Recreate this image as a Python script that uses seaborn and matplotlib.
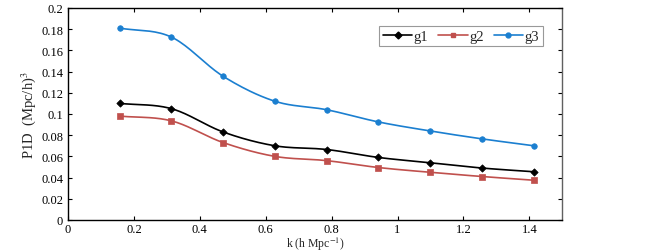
import numpy as np
import pandas as pd
import seaborn as sns
import matplotlib
matplotlib.use("Agg")
import matplotlib.pyplot as plt

k = [0.157, 0.314, 0.471, 0.628, 0.785, 0.942, 1.099, 1.257, 1.414]
g1 = [0.110, 0.105, 0.083, 0.070, 0.0665, 0.059, 0.054, 0.049, 0.0455]
g2 = [0.098, 0.0935, 0.073, 0.060, 0.056, 0.0495, 0.045, 0.041, 0.0375]
g3 = [0.181, 0.1725, 0.1355, 0.112, 0.104, 0.0925, 0.084, 0.0765, 0.070]
series_names = ["g1", "g2", "g3"]
colors = ["#000000", "#C0504D", "#1B7FD0"]
markers = ["D", "s", "o"]

sns.set_theme(style="ticks")
plt.rcParams["font.family"] = ["Liberation Serif", "DejaVu Serif"]
plt.rcParams["mathtext.fontset"] = "stix"

fig = plt.figure(figsize=(6.67, 2.53), dpi=100)
ax = fig.add_axes([0.102, 0.1265, 0.741, 0.838])


def smooth(x, y, n=20):
    # Catmull-Rom style smoothing (like spreadsheet "smoothed line") through data points
    x = np.asarray(x); y = np.asarray(y)
    P = np.column_stack([x, y])
    P = np.vstack([P[0] - (P[1] - P[0]), P, P[-1] + (P[-1] - P[-2])])
    out = []
    t = np.linspace(0, 1, n)[:, None]
    for i in range(1, len(P) - 2):
        p0, p1, p2, p3 = P[i - 1], P[i], P[i + 1], P[i + 2]
        c1 = p1 + (p2 - p0) / 6
        c2 = p2 - (p3 - p1) / 6
        seg = ((1 - t) ** 3) * p1 + 3 * ((1 - t) ** 2) * t * c1 + 3 * (1 - t) * t ** 2 * c2 + t ** 3 * p2
        out.append(seg if i == 1 else seg[1:])
    out = np.vstack(out)
    return out[:, 0], out[:, 1]


for name, vals, c, m in zip(series_names, [g1, g2, g3], colors, markers):
    sx, sy = smooth(k, vals)
    sns.lineplot(x=sx, y=sy, ax=ax, color=c, lw=1.2, sort=False)
    df = pd.DataFrame({"k": k, "v": vals})
    sns.scatterplot(data=df, x="k", y="v", ax=ax, color=c, marker=m,
                    s=16 if m != "D" else 14, edgecolor=c, linewidth=0.5, zorder=3)

from matplotlib.lines import Line2D
handles = [Line2D([], [], color=c, marker=m, markersize=3.5, lw=1.2)
           for c, m in zip(colors, markers)]
leg = ax.legend(handles, series_names, loc="upper right", ncol=3,
                bbox_to_anchor=(0.975, 0.95), frameon=True, fancybox=False,
                edgecolor="#808080", fontsize=10.5, handlelength=2.0,
                handletextpad=0.1, columnspacing=0.7, borderpad=0.25)
leg.get_frame().set_linewidth(0.8)

ax.set_xlim(0, 1.5)
ax.set_ylim(0, 0.2)
ax.set_xticks([0, 0.2, 0.4, 0.6, 0.8, 1.0, 1.2, 1.4])
ax.set_xticklabels(["0", "0.2", "0.4", "0.6", "0.8", "1", "1.2", "1.4"])
ax.set_yticks(np.arange(0, 0.201, 0.02))
ax.set_yticklabels(["0", "0.02", "0.04", "0.06", "0.08", "0.1", "0.12", "0.14", "0.16", "0.18", "0.2"])
ax.tick_params(direction="in", top=True, right=True, labelsize=9, length=3,
               width=0.8, colors="#000000")
ax.tick_params(axis="x", pad=2.5)
for s in ax.spines.values():
    s.set_linewidth(1.0)
    s.set_color("#000000")
ax.spines["right"].set_color("#606060")
ax.set_ylabel("P1D  (Mpc/h)$^3$", fontsize=10.5, labelpad=2)
ax.set_xlabel("k (h Mpc$^{-1}$)", fontsize=8.5)
ax.xaxis.set_label_coords(0.5, -0.068)

fig.savefig("out.png", dpi=100)
